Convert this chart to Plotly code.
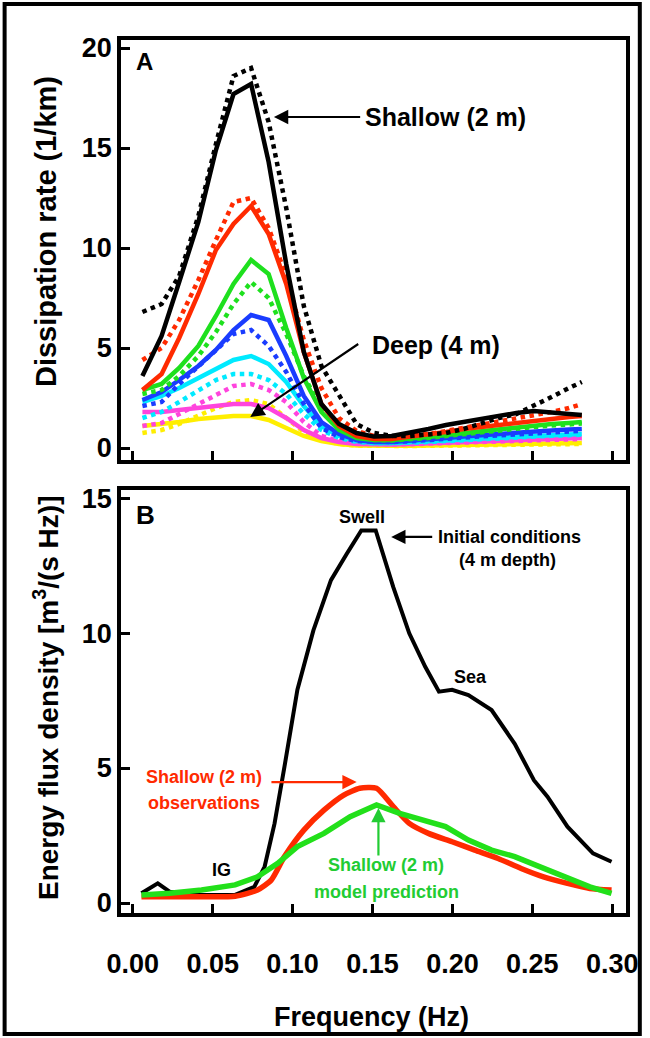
import plotly.graph_objects as go

# ---------------- Panel A data (dissipation rate, 1/km) ----------------
freq_a = [0.006, 0.018, 0.029, 0.041, 0.052, 0.063, 0.074, 0.085, 0.096, 0.107,
          0.118, 0.129, 0.140, 0.151, 0.162, 0.173, 0.185, 0.196, 0.207, 0.218,
          0.229, 0.240, 0.251, 0.262, 0.273, 0.281]

black_solid = [3.6, 5.6, 8.3, 11.3, 14.9, 17.7, 18.2, 14.3, 9.2, 4.8,
               2.2, 1.2, 0.75, 0.57, 0.6, 0.75, 0.95, 1.15, 1.3, 1.5,
               1.65, 1.75, 1.85, 1.8, 1.7, 1.65]
black_dot = [6.8, 7.2, 8.6, 11.6, 15.2, 18.6, 19.0, 16.3, 12.0, 7.1,
             4.1, 2.6, 1.2, 0.75, 0.6, 0.6, 0.65, 0.75, 0.95, 1.25,
             1.5, 1.7, 2.1, 2.55, 3.0, 3.3]
red_solid = [2.9, 3.7, 5.5, 7.7, 9.9, 11.2, 12.1, 10.7, 8.2, 4.8,
             2.2, 1.1, 0.6, 0.45, 0.45, 0.55, 0.65, 0.8, 0.95, 1.05,
             1.2, 1.3, 1.4, 1.5, 1.55, 1.6]
red_dot = [4.4, 5.0, 6.4, 8.4, 10.4, 12.3, 12.5, 11.0, 8.6, 5.4,
           3.0, 1.5, 0.85, 0.6, 0.55, 0.6, 0.7, 0.85, 1.0, 1.15,
           1.3, 1.45, 1.6, 1.8, 2.0, 2.2]
green_solid = [2.9, 3.2, 4.0, 5.1, 6.6, 8.2, 9.4, 8.7, 6.0, 3.5,
               1.8, 0.9, 0.5, 0.4, 0.4, 0.45, 0.55, 0.65, 0.75, 0.85,
               0.95, 1.05, 1.1, 1.2, 1.25, 1.3]
green_dot = [2.7, 2.9, 3.6, 4.6, 5.8, 7.2, 8.3, 7.5, 5.7, 3.6,
             2.0, 1.0, 0.55, 0.4, 0.38, 0.42, 0.5, 0.6, 0.7, 0.8,
             0.9, 0.98, 1.05, 1.12, 1.18, 1.22]
blue_solid = [2.4, 2.8, 3.4, 4.1, 4.9, 5.9, 6.65, 6.4, 4.6, 2.6,
              1.3, 0.7, 0.4, 0.3, 0.3, 0.35, 0.42, 0.5, 0.58, 0.65,
              0.72, 0.78, 0.84, 0.88, 0.92, 0.95]
blue_dot = [2.1, 2.3, 3.2, 4.1, 4.9, 5.7, 5.9, 5.1, 3.8, 2.2,
            1.0, 0.55, 0.35, 0.3, 0.3, 0.33, 0.38, 0.45, 0.52, 0.58,
            0.64, 0.7, 0.75, 0.8, 0.83, 0.86]
cyan_solid = [2.3, 2.6, 3.0, 3.5, 4.0, 4.4, 4.6, 4.2, 3.3, 2.1,
              1.1, 0.6, 0.35, 0.25, 0.25, 0.28, 0.33, 0.38, 0.43, 0.48,
              0.53, 0.57, 0.61, 0.65, 0.68, 0.7]
cyan_dot = [1.5, 1.8, 2.3, 2.9, 3.4, 3.7, 3.7, 3.4, 2.7, 1.7,
            0.9, 0.5, 0.3, 0.24, 0.24, 0.26, 0.3, 0.35, 0.4, 0.45,
            0.5, 0.54, 0.58, 0.61, 0.64, 0.66]
magenta_solid = [1.8, 1.8, 1.9, 2.0, 2.1, 2.2, 2.2, 2.0, 1.5, 0.9,
                 0.5, 0.3, 0.2, 0.18, 0.18, 0.2, 0.23, 0.27, 0.3, 0.34,
                 0.37, 0.4, 0.43, 0.46, 0.48, 0.5]
magenta_dot = [1.1, 1.25, 1.7, 2.2, 2.7, 3.1, 3.2, 2.9, 2.3, 1.3,
               0.6, 0.35, 0.25, 0.2, 0.18, 0.19, 0.22, 0.25, 0.28, 0.31,
               0.34, 0.37, 0.4, 0.42, 0.44, 0.45]
yellow_solid = [1.1, 1.2, 1.3, 1.45, 1.55, 1.6, 1.6, 1.4, 1.0, 0.6,
                0.35, 0.2, 0.12, 0.1, 0.1, 0.11, 0.12, 0.14, 0.15, 0.17,
                0.18, 0.2, 0.21, 0.22, 0.24, 0.25]
yellow_dot = [0.75, 0.9, 1.2, 1.6, 2.0, 2.3, 2.4, 2.2, 1.5, 0.8,
              0.4, 0.2, 0.12, 0.1, 0.1, 0.1, 0.11, 0.12, 0.13, 0.14,
              0.15, 0.16, 0.17, 0.18, 0.19, 0.2]

# ---------------- Panel B data (energy flux density) ----------------
freq_init = [0.0054, 0.0156, 0.023, 0.043, 0.064, 0.076, 0.0825, 0.0887, 0.0949,
             0.103, 0.113, 0.124, 0.134, 0.143, 0.152, 0.163, 0.173, 0.183,
             0.1916, 0.1998, 0.210, 0.2245, 0.239, 0.251, 0.2595, 0.272, 0.288, 0.2996]
flux_init = [0.36, 0.73, 0.42, 0.3, 0.3, 0.6, 1.35, 2.95, 5.05,
             7.9, 10.1, 11.96, 12.95, 13.8, 13.8, 11.7, 9.99, 8.75,
             7.83, 7.9, 7.7, 7.15, 5.9, 4.55, 3.94, 2.83, 1.84, 1.53]

freq_obs = [0.0054, 0.023, 0.043, 0.064, 0.078, 0.0866, 0.0949, 0.107, 0.1196,
            0.132, 0.142, 0.1525, 0.163, 0.173, 0.185, 0.1998, 0.214, 0.2286,
            0.243, 0.257, 0.272, 0.286, 0.2996]
flux_obs = [0.23, 0.23, 0.23, 0.25, 0.48, 0.85, 1.72, 2.7, 3.44,
            4.0, 4.25, 4.25, 3.57, 2.95, 2.58, 2.27, 1.96, 1.65,
            1.28, 0.97, 0.73, 0.54, 0.48]

freq_model = [0.0054, 0.023, 0.043, 0.064, 0.078, 0.0907, 0.103, 0.1196, 0.136,
              0.1525, 0.167, 0.181, 0.1957, 0.210, 0.2245, 0.239, 0.255, 0.272,
              0.286, 0.2996]
flux_model = [0.3, 0.36, 0.48, 0.67, 0.97, 1.47, 2.09, 2.58, 3.2,
              3.63, 3.32, 3.07, 2.83, 2.33, 1.96, 1.72, 1.35, 0.97,
              0.6, 0.36]

x_ticks = [0.0, 0.05, 0.10, 0.15, 0.20, 0.25, 0.30]
x_tick_text = ["0.00", "0.05", "0.10", "0.15", "0.20", "0.25", "0.30"]
ya_ticks = [0, 5, 10, 15, 20]
yb_ticks = [0, 5, 10, 15]

# ---------------- styling ----------------
FONT = "Liberation Sans, Arial, Helvetica, sans-serif"
W, H = 650, 1038
L_PX, R_PX, T_PX, B_PX = 121, 633, 40, 913
C_BLACK = "#000000"
C_RED = "#ff2a00"
C_GREEN = "#1ee01e"
C_BLUE = "#1a3cff"
C_CYAN = "#00eaff"
C_MAGENTA = "#ff44dd"
C_YELLOW = "#ffee00"


def px_to_paper_x(px):
    return (px - L_PX) / (R_PX - L_PX)


def px_to_paper_y(py):
    return (B_PX - py) / (B_PX - T_PX)


fig = go.Figure()

series_a = [
    (yellow_dot, C_YELLOW, "dot"), (yellow_solid, C_YELLOW, "solid"),
    (magenta_dot, C_MAGENTA, "dot"), (magenta_solid, C_MAGENTA, "solid"),
    (cyan_dot, C_CYAN, "dot"), (cyan_solid, C_CYAN, "solid"),
    (blue_dot, C_BLUE, "dot"), (blue_solid, C_BLUE, "solid"),
    (green_dot, C_GREEN, "dot"), (green_solid, C_GREEN, "solid"),
    (red_dot, C_RED, "dot"), (red_solid, C_RED, "solid"),
    (black_dot, C_BLACK, "dot"), (black_solid, C_BLACK, "solid"),
]
for vals, col, dash in series_a:
    fig.add_trace(go.Scatter(x=freq_a, y=vals, mode="lines",
                             line=dict(color=col, width=4.5, dash=dash),
                             xaxis="x", yaxis="y", showlegend=False,
                             hoverinfo="skip"))

fig.add_trace(go.Scatter(x=freq_init, y=flux_init, mode="lines",
                         line=dict(color=C_BLACK, width=4), xaxis="x2", yaxis="y2",
                         showlegend=False))
fig.add_trace(go.Scatter(x=freq_obs, y=flux_obs, mode="lines",
                         line=dict(color=C_RED, width=5.5, shape="spline", smoothing=0.6),
                         xaxis="x2", yaxis="y2", showlegend=False))
fig.add_trace(go.Scatter(x=freq_model, y=flux_model, mode="lines",
                         line=dict(color="#22e01a", width=5.5), xaxis="x2", yaxis="y2",
                         showlegend=False))

# domains
dom_a = [px_to_paper_y(460), 1.0]
dom_b = [0.0, px_to_paper_y(490)]
x_range = [(L_PX - 133) / 1620, (R_PX - 133) / 1620]

axis_common = dict(showline=True, linewidth=3.5, linecolor="black", mirror=True,
                   ticks="inside", ticklen=9, tickwidth=3, tickcolor="black",
                   showgrid=False, zeroline=False,
                   tickfont=dict(family=FONT, size=27, color="black", weight="bold"))

fig.update_layout(
    width=W, height=H,
    margin=dict(l=L_PX, r=W - R_PX, t=T_PX, b=H - B_PX),
    paper_bgcolor="white", plot_bgcolor="white",
    font=dict(family=FONT, color="black"),
    xaxis=dict(domain=[0, 1], range=x_range, anchor="y", tickvals=x_ticks,
               showticklabels=False, **axis_common),
    yaxis=dict(domain=dom_a, range=[-0.6, 20.4], anchor="x", tickvals=ya_ticks,
               **axis_common),
    xaxis2=dict(domain=[0, 1], range=x_range, anchor="y2", tickvals=x_ticks,
                ticktext=x_tick_text, ticklabelstandoff=24, **axis_common),
    yaxis2=dict(domain=dom_b, range=[-0.37, 15.3], anchor="x2", tickvals=yb_ticks,
                **axis_common),
)

bold = dict(family=FONT, color="black", weight="bold")
ann = []


def text_ann(x, y, text, font, xref="x", yref="y", xanchor="center"):
    ann.append(dict(x=x, y=y, xref=xref, yref=yref, text=text, showarrow=False,
                    xanchor=xanchor, yanchor="middle", font=font))


def arrow_ann(tip_x, tip_y, tail_x, tail_y, color, xref="x", yref="y"):
    ann.append(dict(x=tip_x, y=tip_y, xref=xref, yref=yref, ax=tail_x, ay=tail_y,
                    axref=xref, ayref=yref, text="", showarrow=True, arrowhead=2,
                    arrowsize=1.3, arrowwidth=2.2, arrowcolor=color))


# Panel labels
text_ann(0.0006, 19.35, "A", dict(size=24, **bold), xanchor="left")
text_ann(0.0006, 14.37, "B", dict(size=26, **bold), "x2", "y2", xanchor="left")
# Panel A text + arrows
text_ann(0.1957, 16.55, "Shallow (2 m)", dict(size=25, **bold))
arrow_ann(0.0883, 16.55, 0.1432, 16.55, "black")
text_ann(0.1895, 5.15, "Deep (4 m)", dict(size=25, **bold))
arrow_ann(0.0735, 1.55, 0.142, 5.25, "black")
# Panel B text + arrows
f18 = dict(size=18, **bold)
text_ann(0.1432, 14.3, "Swell", f18, "x2", "y2")
arrow_ann(0.1617, 13.56, 0.1883, 13.56, "black", "x2", "y2")
text_ann(0.1895, 13.56, "Initial conditions", f18, "x2", "y2", xanchor="left")
text_ann(0.2346, 12.7, "(4 m depth)", f18, "x2", "y2")
text_ann(0.2111, 8.37, "Sea", f18, "x2", "y2")
text_ann(0.0556, 1.22, "IG", f18, "x2", "y2")
red_font = dict(family=FONT, color=C_RED, weight="bold", size=18)
text_ann(0.0444, 4.67, "Shallow (2 m)", red_font, "x2", "y2")
text_ann(0.0444, 3.70, "observations", red_font, "x2", "y2")
arrow_ann(0.1401, 4.48, 0.0858, 4.48, C_RED, "x2", "y2")
green_font = dict(family=FONT, color="#22cc33", weight="bold", size=18)
text_ann(0.1586, 1.41, "Shallow (2 m)", green_font, "x2", "y2")
text_ann(0.1586, 0.41, "model prediction", green_font, "x2", "y2")
arrow_ann(0.1537, 3.52, 0.1537, 1.70, "#22cc33", "x2", "y2")
# Axis titles
ann.append(dict(x=px_to_paper_x(45), y=px_to_paper_y(232), xref="paper", yref="paper",
                text="Dissipation rate (1/km)", textangle=-90, showarrow=False,
                xanchor="center", yanchor="middle", font=dict(size=29, **bold)))
ann.append(dict(x=px_to_paper_x(45), y=px_to_paper_y(698), xref="paper", yref="paper",
                text="Energy flux density [m<sup>3</sup>/(s Hz)]", textangle=-90,
                showarrow=False, xanchor="center", yanchor="middle",
                font=dict(size=28, **bold)))
ann.append(dict(x=px_to_paper_x(375), y=px_to_paper_y(1017), xref="paper", yref="paper",
                text="Frequency (Hz)", showarrow=False, xanchor="center",
                yanchor="middle", font=dict(size=27, **bold)))
fig.update_layout(annotations=ann)

# Outer frame
fig.add_shape(type="rect", xref="paper", yref="paper",
              x0=px_to_paper_x(3), x1=px_to_paper_x(647),
              y0=px_to_paper_y(1034), y1=px_to_paper_y(4),
              line=dict(color="black", width=4), fillcolor="rgba(0,0,0,0)")

fig.write_html("out.html", config={"displayModeBar": False},
               post_script="document.body.style.margin='0px';"
                           "document.body.style.overflow='hidden';")
